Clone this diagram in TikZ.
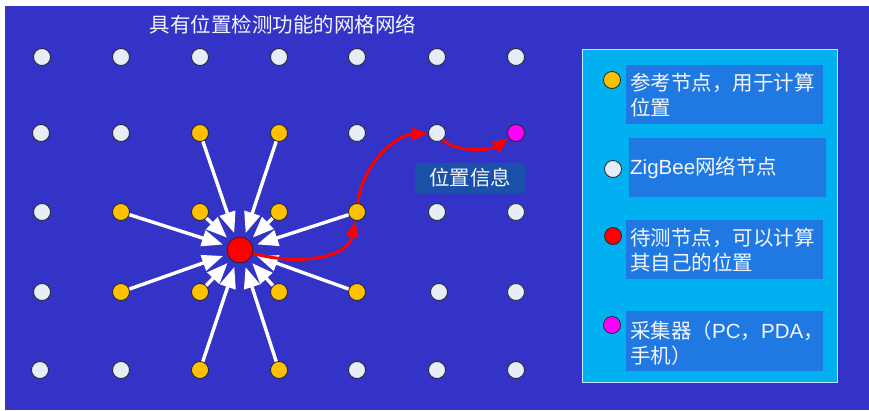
\documentclass[tikz,border=0pt]{standalone}
\usepackage{fontspec}
\setmainfont{Noto Sans CJK SC}
\newfontfamily\latinf{Liberation Sans}
\usetikzlibrary{arrows.meta}
\definecolor{bgblue}{HTML}{3333C8}
\definecolor{panelcyan}{HTML}{00B0F0}
\definecolor{tbox}{HTML}{2079E2}
\definecolor{lbox}{HTML}{1A50A8}
\definecolor{wfill}{HTML}{E6EDF6}
\definecolor{yfill}{HTML}{FFC000}
\definecolor{mfill}{HTML}{FF00FF}
\definecolor{rfill}{HTML}{FF0000}
\definecolor{txt}{HTML}{F4F6FA}
\tikzset{
  dot/.style={circle, draw=black!85, line width=0.8pt, minimum size=17pt, inner sep=0pt},
  wnode/.style={dot, fill=wfill},
  ynode/.style={dot, fill=yfill},
  mnode/.style={dot, fill=mfill},
  rnode/.style={circle, draw=black!85, line width=0.8pt, fill=rfill, minimum size=26pt, inner sep=0pt},
  lrnode/.style={dot, fill=rfill},
  warrow/.style={draw=white, line width=3.4pt, shorten >=4.5pt, -{Triangle[length=21pt,width=16pt]}},
  rarrow/.style={draw=rfill, line width=3pt, -{Triangle[length=16pt,width=12pt]}},
  label/.style={text=txt, font=\fontsize{20.5}{25}\selectfont, inner sep=0pt},
  legtext/.style={label, anchor=west, align=left},
  legbox/.style={fill=tbox, draw=none}
}
\begin{document}
\begin{tikzpicture}[x=1pt,y=-1pt]
\useasboundingbox (0,0) rectangle (869,410);
\fill[white] (0,0) rectangle (869,410);
\fill[bgblue] (5,6) rectangle (869,410);
% title
\node[label] (title) at (283,25) {具有位置检测功能的网格网络};
% row 1
\node[wnode] (w11) at (42,57) {};
\node[wnode] (w12) at (121,57) {};
\node[wnode] (w13) at (200,57) {};
\node[wnode] (w14) at (279,57) {};
\node[wnode] (w15) at (357,57) {};
\node[wnode] (w16) at (437,57) {};
\node[wnode] (w17) at (516,57) {};
% row 2
\node[wnode] (w21) at (41,133) {};
\node[wnode] (w22) at (121,133) {};
\node[ynode] (y23) at (200,133) {};
\node[ynode] (y24) at (279,133) {};
\node[wnode] (w25) at (357,133) {};
\node[wnode] (w26) at (437,133) {};
\node[mnode] (m27) at (516,133) {};
% row 3
\node[wnode] (w31) at (42,212) {};
\node[ynode] (y32) at (121,212) {};
\node[ynode] (y33) at (200,212) {};
\node[ynode] (y34) at (279,212) {};
\node[ynode] (y35) at (357,212) {};
\node[wnode] (w36) at (437,212) {};
\node[wnode] (w37) at (516,212) {};
% row 4
\node[wnode] (w41) at (42,292) {};
\node[ynode] (y42) at (121,292) {};
\node[ynode] (y43) at (200,292) {};
\node[ynode] (y44) at (279,292) {};
\node[ynode] (y45) at (357,292) {};
\node[wnode] (w46) at (439,292) {};
\node[wnode] (w47) at (516,292) {};
% row 5
\node[wnode] (w51) at (40,370) {};
\node[wnode] (w52) at (121,370) {};
\node[ynode] (y53) at (200,370) {};
\node[ynode] (y54) at (279,370) {};
\node[wnode] (w55) at (357,370) {};
\node[wnode] (w56) at (437,370) {};
\node[wnode] (w57) at (516,370) {};
% target node
\node[rnode] (r) at (240,250) {};
% white arrows
\foreach \n in {y23,y24,y32,y33,y34,y35,y42,y43,y44,y45,y53,y54}
  \draw[warrow] (\n) -- (r);
% red path
\draw[rarrow] (r) .. controls (300,266) and (348,258) .. (y35);
\draw[rarrow] (y35) .. controls (362,165) and (395,135) .. (w26);
\draw[rarrow] (w26) .. controls (455,153) and (492,150) .. (m27);
% label
\node[fill=lbox, minimum width=110pt, minimum height=30pt, inner sep=0pt] (info) at (470,178) {};
\node[label] (infot) at (470,178) {位置信息};
% legend panel
\draw[fill=panelcyan, draw=white!75!cyan, line width=1pt] (582,49) rectangle (837,382);
\fill[legbox] (626,65) rectangle (823,124);
\fill[legbox] (629,138) rectangle (826,197);
\fill[legbox] (626,220) rectangle (823,279);
\fill[legbox] (626,311) rectangle (823,371);
\node[ynode] (ly) at (612,80) {};
\node[wnode] (lw) at (613,169) {};
\node[lrnode] (lr) at (613,236) {};
\node[mnode] (lm) at (612,325) {};
\node[legtext] (t1) at (630,95.5) {参考节点，用于计算\\位置};
\node[legtext] (t2) at (630,168) {{\latinf ZigBee}网络节点};
\node[legtext] (t3) at (630,250.5) {待测节点，可以计算\\其自己的位置};
\node[legtext] (t4) at (630,343) {采集器（{\latinf PC}，{\latinf PDA}，\\手机）};
\end{tikzpicture}
\end{document}
